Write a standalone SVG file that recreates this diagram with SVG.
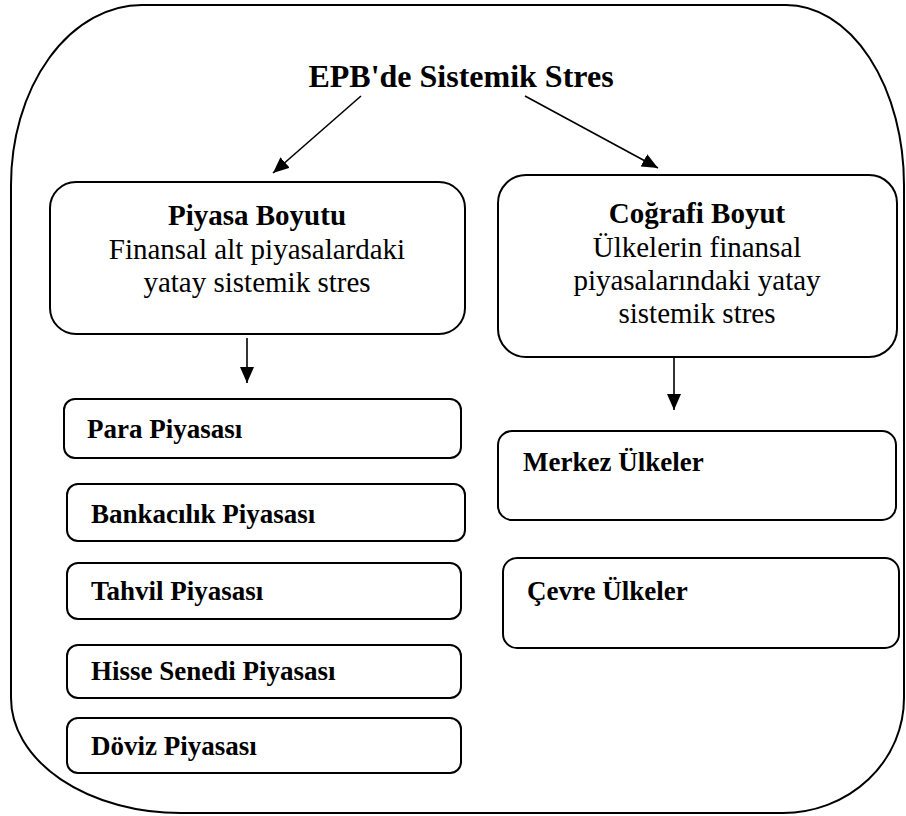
<svg xmlns="http://www.w3.org/2000/svg" width="906" height="816" viewBox="0 0 906 816">
  <defs>
    <marker id="arrow" viewBox="0 0 16 14" refX="16" refY="7" markerWidth="16" markerHeight="14" markerUnits="userSpaceOnUse" orient="auto">
      <path d="M0,0 L16,7 L0,14 Z" fill="#000"/>
    </marker>
  </defs>
  <style>
    .frame { fill: #fff; stroke: #000; stroke-width: 2; }
    .box { fill: #fff; stroke: #000; stroke-width: 2; }
    .title { font-family: "Liberation Serif", "Times New Roman", serif; font-size: 32px; font-weight: bold; text-anchor: middle; fill: #000; }
    .head { font-family: "Liberation Serif", "Times New Roman", serif; font-size: 29px; font-weight: bold; text-anchor: middle; fill: #000; }
    .body { font-family: "Liberation Serif", "Times New Roman", serif; font-size: 29px; text-anchor: middle; fill: #000; }
    .item { font-family: "Liberation Serif", "Times New Roman", serif; font-size: 27px; font-weight: bold; fill: #000; }
    .conn { stroke: #000; stroke-width: 1.6; fill: none; marker-end: url(#arrow); }
  </style>
  <rect width="906" height="816" fill="#fff"/>

  <!-- outer frame -->
  <g id="frame">
    <path class="frame" d="M142,5 L786,5 A118,180 0 0 1 904,185 L904,698 A121,115 0 0 1 783,813 L181,813 A170,115 0 0 1 11,698 L11,185 A131,180 0 0 1 142,5 Z"/>
  </g>

  <g id="title">
    <text class="title" x="461" y="87">EPB'de Sistemik Stres</text>
  </g>

  <g id="piyasa-boyutu">
    <rect class="box" x="50" y="182" width="415" height="152" rx="26" ry="26"/>
    <text class="head" x="257" y="225">Piyasa Boyutu</text>
    <text class="body" x="257" y="259">Finansal alt piyasalardaki</text>
    <text class="body" x="257" y="292">yatay sistemik stres</text>
  </g>

  <g id="cografi-boyut">
    <rect class="box" x="498" y="175" width="399" height="182" rx="28" ry="28"/>
    <text class="head" x="697" y="223">Coğrafi Boyut</text>
    <text class="body" x="697" y="257">Ülkelerin finansal</text>
    <text class="body" x="697" y="290">piyasalarındaki yatay</text>
    <text class="body" x="697" y="323">sistemik stres</text>
  </g>

  <g id="para">
    <rect class="box" x="64" y="399" width="397" height="59" rx="11" ry="11"/>
    <text class="item" x="87" y="438">Para Piyasası</text>
  </g>
  <g id="bankacilik">
    <rect class="box" x="67" y="484" width="398" height="57" rx="11" ry="11"/>
    <text class="item" x="91" y="523">Bankacılık Piyasası</text>
  </g>
  <g id="tahvil">
    <rect class="box" x="67" y="563" width="394" height="56" rx="11" ry="11"/>
    <text class="item" x="91" y="600">Tahvil Piyasası</text>
  </g>
  <g id="hisse">
    <rect class="box" x="67" y="645" width="394" height="53" rx="11" ry="11"/>
    <text class="item" x="91" y="680">Hisse Senedi Piyasası</text>
  </g>
  <g id="doviz">
    <rect class="box" x="67" y="718" width="394" height="55" rx="11" ry="11"/>
    <text class="item" x="91" y="755">Döviz Piyasası</text>
  </g>

  <g id="merkez">
    <rect class="box" x="498" y="431" width="398" height="89" rx="14" ry="14"/>
    <text class="item" x="523" y="471">Merkez Ülkeler</text>
  </g>
  <g id="cevre">
    <rect class="box" x="503" y="558" width="396" height="90" rx="14" ry="14"/>
    <text class="item" x="527" y="600">Çevre Ülkeler</text>
  </g>

  <!-- connectors -->
  <g id="connectors">
    <line class="conn" x1="361" y1="96" x2="273" y2="173"/>
    <line class="conn" x1="525" y1="96" x2="658" y2="168"/>
    <line class="conn" x1="247" y1="338" x2="247" y2="383"/>
    <line class="conn" x1="674" y1="357" x2="674" y2="410"/>
  </g>
</svg>
